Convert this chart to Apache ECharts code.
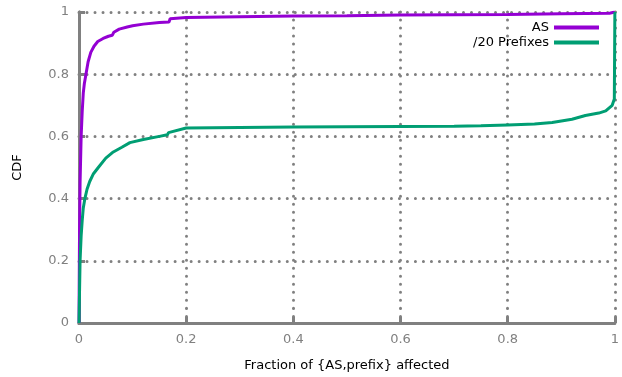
<!DOCTYPE html>
<html><head><meta charset="utf-8">
<script src="https://cdn.jsdelivr.net/npm/echarts@6/dist/echarts.min.js"></script>
<style>html,body{margin:0;padding:0;background:#fff;overflow:hidden}#c{width:622px;height:377px}</style>
</head><body><div id="c"></div>
<script>
var seriesNames = ['AS', '/20 Prefixes'];
var asX = [0, 0.001, 0.002, 0.004, 0.006, 0.008, 0.010, 0.013, 0.017, 0.022, 0.028, 0.035, 0.045, 0.055, 0.062, 0.065, 0.075, 0.09, 0.1, 0.12, 0.15, 0.168, 0.17, 0.2, 0.3, 0.4, 0.5, 0.6, 0.7, 0.8, 0.9, 0.99, 1.0];
var asY = [0, 0.3, 0.45, 0.6, 0.68, 0.74, 0.77, 0.8, 0.84, 0.87, 0.89, 0.905, 0.915, 0.922, 0.925, 0.935, 0.945, 0.952, 0.956, 0.961, 0.966, 0.968, 0.978, 0.982, 0.985, 0.987, 0.988, 0.99, 0.991, 0.992, 0.994, 0.996, 1.0];
var pfX = [0, 0.001, 0.002, 0.004, 0.006, 0.008, 0.011, 0.015, 0.02, 0.027, 0.036, 0.05, 0.064, 0.08, 0.095, 0.12, 0.15, 0.165, 0.167, 0.2, 0.3, 0.4, 0.5, 0.6, 0.7, 0.75, 0.8, 0.85, 0.883, 0.92, 0.945, 0.97, 0.983, 0.995, 0.999, 1.0];
var pfY = [0, 0.1, 0.2, 0.28, 0.33, 0.37, 0.40, 0.43, 0.455, 0.48, 0.5, 0.53, 0.55, 0.565, 0.58, 0.59, 0.6, 0.605, 0.612, 0.627, 0.629, 0.63, 0.631, 0.632, 0.633, 0.634, 0.637, 0.64, 0.645, 0.655, 0.667, 0.675, 0.682, 0.7, 0.72, 1.0];
var xTicks = [0, 0.2, 0.4, 0.6, 0.8, 1];
var yTicks = [0, 0.2, 0.4, 0.6, 0.8, 1];

function pairs(xs, ys){ return xs.map(function(x,i){ return [x, ys[i]]; }); }
var font = 'DejaVu Sans';
var gray = '#808080';
var dotted = {color: gray, width: 3, type: [0.01, 8], cap: 'round'};
var chart = echarts.init(document.getElementById('c'));
chart.setOption({
  animation: false,
  grid: {left: 79, right: 6, top: 12, bottom: 52},
  legend: {
    right: 23, top: 21, padding: 0, orient: 'vertical', align: 'right',
    itemWidth: 45, itemHeight: 4, itemGap: 2, icon: 'rect',
    textStyle: {fontFamily: font, fontSize: 13, color: '#000'},
    data: seriesNames
  },
  xAxis: {
    type: 'value', min: 0, max: 1, interval: 0.2,
    name: 'Fraction of {AS,prefix} affected', nameLocation: 'middle', nameGap: 36,
    nameTextStyle: {fontFamily: font, fontSize: 13, color: '#000'},
    axisLine: {show: true, lineStyle: {color: gray, width: 3}},
    axisTick: {show: true, inside: true, length: 6, lineStyle: {color: gray, width: 3}},
    axisLabel: {fontFamily: font, fontSize: 13, color: gray, margin: 10,
      formatter: function(v){ return xTicks.indexOf(v) >= 0 ? String(v) : ''; }},
    splitLine: {show: true, lineStyle: dotted}
  },
  yAxis: {
    type: 'value', min: 0, max: 1, interval: 0.2,
    name: 'CDF', nameLocation: 'middle', nameGap: 55,
    nameTextStyle: {fontFamily: font, fontSize: 13, color: '#000'},
    axisLine: {show: true, lineStyle: {color: gray, width: 3}},
    axisTick: {show: true, inside: true, length: 6, lineStyle: {color: gray, width: 3}},
    axisLabel: {fontFamily: font, fontSize: 13, color: gray, margin: 10,
      formatter: function(v){ return yTicks.indexOf(v) >= 0 ? String(v) : ''; }},
    splitLine: {show: true, lineStyle: dotted}
  },
  series: [
    {name: seriesNames[0], type: 'line', data: pairs(asX, asY), showSymbol: false, symbol: 'none',
     color: '#9400d3', lineStyle: {width: 3, color: '#9400d3'}, z: 3},
    {name: seriesNames[1], type: 'line', data: pairs(pfX, pfY), showSymbol: false, symbol: 'none',
     color: '#009e73', lineStyle: {width: 3, color: '#009e73'}, z: 4}
  ]
});
</script></body></html>
